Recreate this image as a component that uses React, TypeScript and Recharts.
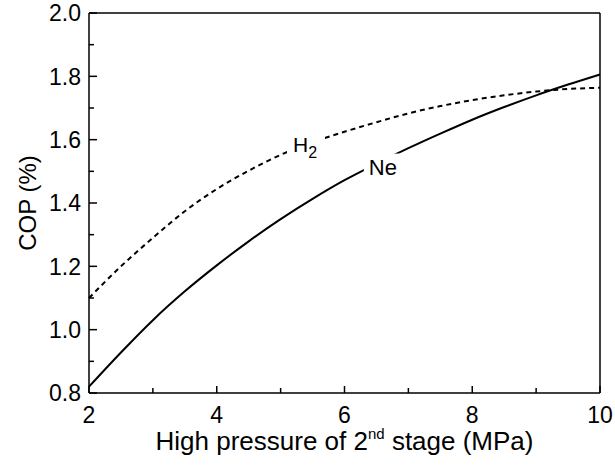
import { LineChart, Line, XAxis, YAxis, ReferenceLine, ReferenceDot, Label } from 'recharts';

const pressure = [2, 2.5, 3, 3.5, 4, 4.5, 5, 5.5, 6, 6.5, 7, 7.5, 8, 8.5, 9, 9.5, 10];
const neCop = [0.82, 0.928, 1.03, 1.121, 1.203, 1.279, 1.349, 1.413, 1.472, 1.524, 1.573, 1.619, 1.663, 1.703, 1.74, 1.774, 1.806];
const h2Cop = [1.1, 1.2, 1.29, 1.374, 1.444, 1.502, 1.552, 1.592, 1.625, 1.655, 1.683, 1.706, 1.725, 1.74, 1.752, 1.76, 1.764];
const xTicks = [2, 3, 4, 5, 6, 7, 8, 9, 10];
const yTicks = [0.8, 0.9, 1.0, 1.1, 1.2, 1.3, 1.4, 1.5, 1.6, 1.7, 1.8, 1.9, 2.0];

const data = pressure.map((p, i) => ({ p, ne: neCop[i], h2: h2Cop[i] }));

const FONT = '"Liberation Sans", Arial, sans-serif';

function XTick({ x, y, payload }: any) {
  const major = payload.value % 2 === 0;
  return (
    <g>
      <line x1={x} x2={x} y1={y} y2={y - (major ? 7 : 5)} stroke="#000" strokeWidth={1.5} />
      {major && (
        <text x={x} y={y + 30} textAnchor="middle" fontSize={23} fontFamily={FONT} fill="#000">
          {payload.value}
        </text>
      )}
    </g>
  );
}

function YTick({ x, y, payload }: any) {
  const v = Math.round(payload.value * 10);
  const major = v % 2 === 0;
  return (
    <g>
      <line x1={x} x2={x + (major ? 8 : 5)} y1={y} y2={y} stroke="#000" strokeWidth={1.5} />
      {major && (
        <text x={x - 8} y={y} dy="0.36em" textAnchor="end" fontSize={23} fontFamily={FONT} fill="#000">
          {payload.value.toFixed(1)}
        </text>
      )}
    </g>
  );
}

function XTitle({ viewBox }: any) {
  const cx = viewBox.x + viewBox.width / 2;
  return (
    <text x={cx} y={viewBox.y + 57} textAnchor="middle" fontSize={26} fontFamily={FONT} fill="#000">
      High pressure of 2<tspan fontSize={15} dy={-11}>nd</tspan>
      <tspan dy={11}> stage (MPa)</tspan>
    </text>
  );
}

function YTitle({ viewBox }: any) {
  const cy = viewBox.y + viewBox.height / 2;
  const cx = 27;
  return (
    <text x={cx} y={cy} transform={`rotate(-90 ${cx} ${cy})`} textAnchor="middle" dy="0.36em" fontSize={24} fontFamily={FONT} fill="#000">
      COP (%)
    </text>
  );
}

function H2Label({ cx, cy }: any) {
  return (
    <g>
      <rect x={cx - 16} y={cy - 14} width={38} height={28} fill="#fff" />
      <text x={cx - 10} y={cy} dy="0.36em" fontSize={21} fontFamily={FONT} fill="#000">
        H<tspan fontSize={16} dy={6}>2</tspan>
      </text>
    </g>
  );
}

function NeLabel({ cx, cy }: any) {
  return (
    <g>
      <rect x={cx - 19} y={cy - 13} width={39} height={26} fill="#fff" />
      <text x={cx} y={cy} dy="0.36em" textAnchor="middle" fontSize={22} fontFamily={FONT} fill="#000">
        Ne
      </text>
    </g>
  );
}

export default function App() {
  return (
    <div style={{ position: 'absolute', left: 0, top: 0, background: '#fff' }}>
      <LineChart width={615} height={468} data={data} margin={{ top: 13, right: 15, left: 0, bottom: 0 }}>
        <XAxis
          dataKey="p"
          type="number"
          domain={[2, 10]}
          ticks={xTicks}
          tick={<XTick />}
          tickLine={false}
          tickSize={0}
          tickMargin={0}
          height={75}
          stroke="#000"
          strokeWidth={1.5}
          interval={0}
        >
          <Label content={<XTitle />} />
        </XAxis>
        <YAxis
          type="number"
          domain={[0.8, 2.0]}
          ticks={yTicks}
          tick={<YTick />}
          tickLine={false}
          tickSize={0}
          tickMargin={0}
          width={89}
          stroke="#000"
          strokeWidth={1.5}
          interval={0}
        >
          <Label content={<YTitle />} />
        </YAxis>
        <ReferenceLine y={2.0} stroke="#000" strokeWidth={1.5} />
        <ReferenceLine x={10} stroke="#000" strokeWidth={1.5} />
        <Line dataKey="h2" type="monotone" stroke="#000" strokeWidth={2} strokeDasharray="5 4" dot={false} isAnimationActive={false} />
        <Line dataKey="ne" type="monotone" stroke="#000" strokeWidth={2} dot={false} isAnimationActive={false} />
        <ReferenceDot x={5.35} y={1.585} r={0} shape={<H2Label />} />
        <ReferenceDot x={6.6} y={1.515} r={0} shape={<NeLabel />} />
      </LineChart>
    </div>
  );
}
